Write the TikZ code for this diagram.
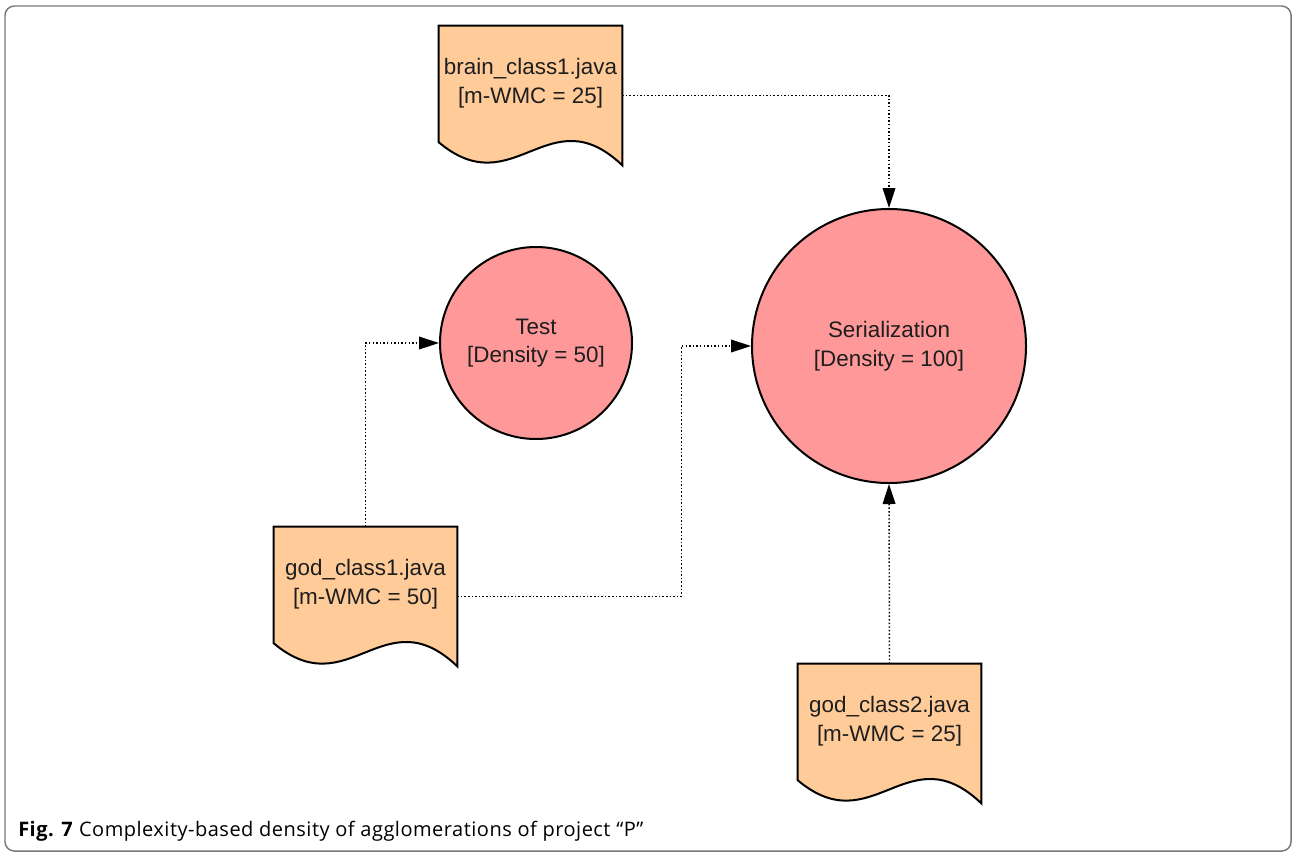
\documentclass[tikz,border=0pt]{standalone}
\usepackage{fontspec}
\setmainfont{Liberation Sans}
\newfontfamily\capfont[LetterSpace=2.5]{Open Sans}
\usetikzlibrary{arrows.meta,calc,positioning}

\definecolor{docfill}{RGB}{255,204,153}
\definecolor{blobfill}{RGB}{255,153,153}
\definecolor{inktext}{RGB}{30,30,30}
\definecolor{framegray}{RGB}{120,120,120}

\tikzset{
  docshape/.style={rectangle, inner sep=0pt, minimum width=137.25pt, minimum height=104.25pt},
  doclabel/.style={align=center, text=inktext, inner sep=0pt,
    font=\fontsize{16.8pt}{21.5pt}\selectfont},
  docoutline/.style={draw=black, fill=docfill, line width=1.5pt, line join=miter},
  blob/.style={circle, draw=black, fill=blobfill, line width=1.5pt, inner sep=0pt,
    align=center, text=inktext, font=\fontsize{16.8pt}{21.5pt}\selectfont},
  conn/.style={draw=black, line width=1.1pt, dash pattern=on 1.1pt off 1.6pt,
    -{Triangle[length=15pt, width=9.5pt]}},
}

% document symbol with a wavy lower edge, drawn around a named node
\newcommand{\wavydoc}[1]{%
  \path[docoutline] (#1.north west) -- ($(#1.south west)+(0,-23)$)
    .. controls ($(#1.south west)+(75,40)$) and ($(#1.south west)+(110,-70)$)
    .. (#1.south east) -- (#1.north east) -- cycle;}

\begin{document}
\begin{tikzpicture}[x=0.75pt, y=-0.75pt]
\useasboundingbox (0,0) rectangle (1294,854);

% outer frame
\draw[framegray, line width=1.1pt, rounded corners=7pt] (5,6) rectangle (1291,851);

% agglomerations
\node[blob, minimum size=144pt] (test) at (536,343) {Test\\{}[Density = 50]};
\node[blob, minimum size=205.5pt] (ser) at (889,346) {Serialization\\{}[Density = 100]};

% classes
\node[docshape] (brain) at (530.5,95.5) {};
\wavydoc{brain}
\node[doclabel] (brainT) at ($(brain.center)+(0,-12)$) {brain\_class1.java\\{}[m-WMC = 25]};

\node[docshape] (god1) at (365.5,596.5) {};
\wavydoc{god1}
\node[doclabel] (god1T) at ($(god1.center)+(0,-12)$) {god\_class1.java\\{}[m-WMC = 50]};

\node[docshape] (god2) at (889.5,733.5) {};
\wavydoc{god2}
\node[doclabel] (god2T) at ($(god2.center)+(0,-12)$) {god\_class2.java\\{}[m-WMC = 25]};

% connectors
\draw[conn] (brain.east) -| (ser.north);
\draw[conn] (god1.north) |- (test.west);
\draw[conn] (god1.east) -- ++(224,0) |- (ser.west);
\draw[conn] (god2.north) -- (ser.south);

% caption
\node[anchor=base west, inner sep=0pt, text=black, font=\capfont\fontsize{15pt}{18pt}\selectfont]
  (caption) at (18,836) {\textbf{Fig. 7} Complexity-based density of agglomerations of project “P”};
\end{tikzpicture}
\end{document}
